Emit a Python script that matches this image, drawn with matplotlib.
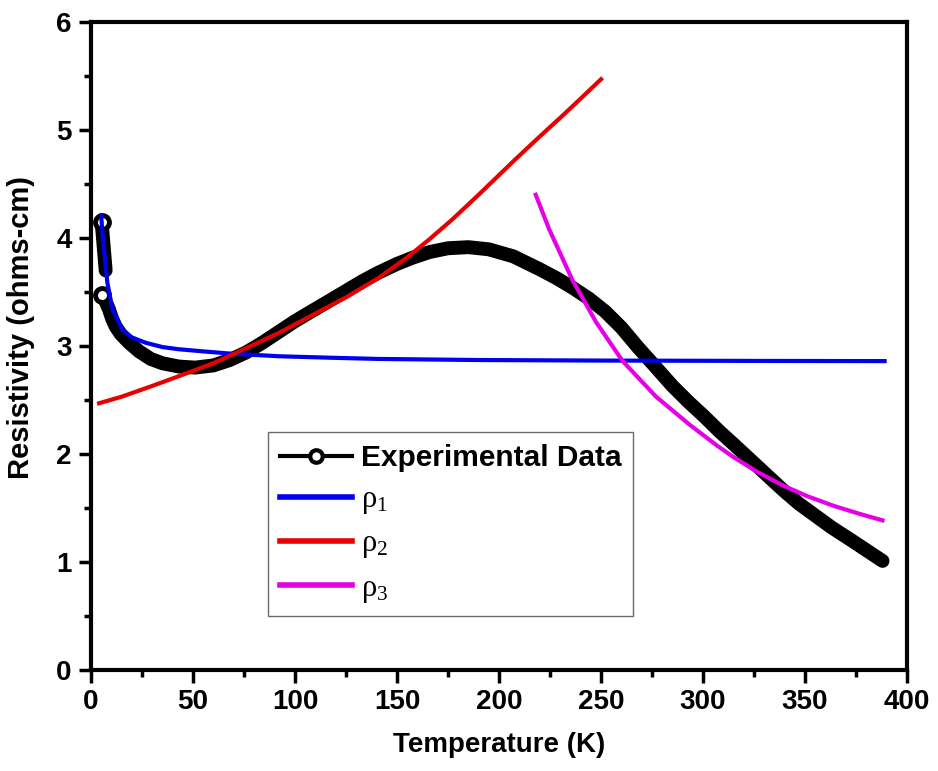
import matplotlib
matplotlib.use("Agg")
import matplotlib.pyplot as plt
from matplotlib.lines import Line2D
from matplotlib.ticker import MultipleLocator

plt.rcParams['font.family'] = ['Liberation Sans', 'DejaVu Sans']
plt.rcParams['mathtext.fontset'] = 'custom'
plt.rcParams['mathtext.rm'] = 'Liberation Serif'
plt.rcParams['mathtext.it'] = 'Liberation Serif'

# measured resistivity: the cluster at the lowest temperatures, then the main sweep
exp_T_low = [5.2, 5.6, 6.0, 6.4, 6.8, 7.2]
exp_rho_low = [4.15, 4.06, 3.97, 3.88, 3.79, 3.70]

exp_T = [5.5, 7.2, 8.8, 10.4, 12.1, 14.6, 18.7, 23.6, 29.3, 35, 43, 51, 60, 68, 76,
         84, 92, 100, 108, 117, 125, 133, 141, 150, 158, 166, 175, 185, 195, 207,
         220, 228, 236, 244, 252, 260, 268, 277, 285, 293, 301, 308, 315, 323, 331,
         339, 347, 355, 363, 372, 380, 388]
exp_rho = [3.47, 3.41, 3.34, 3.25, 3.18, 3.11, 3.03, 2.95, 2.88, 2.84, 2.81, 2.80,
           2.82, 2.87, 2.94, 3.03, 3.13, 3.23, 3.32, 3.42, 3.51, 3.60, 3.68, 3.76,
           3.82, 3.87, 3.905, 3.915, 3.895, 3.83, 3.71, 3.63, 3.54, 3.44, 3.32, 3.17,
           2.99, 2.80, 2.63, 2.48, 2.34, 2.21, 2.09, 1.95, 1.81, 1.67, 1.54, 1.43,
           1.32, 1.21, 1.11, 1.01]

# fitted contributions
rho1_T = [5.0, 5.6, 6.4, 8.0, 10.5, 15.4, 20, 26.8, 35, 43, 55, 68, 92, 120, 141,
          190, 250, 320, 389]
rho1 = [4.21, 4.05, 3.89, 3.59, 3.34, 3.15, 3.08, 3.03, 2.99, 2.97, 2.95, 2.93,
        2.905, 2.89, 2.88, 2.87, 2.865, 2.862, 2.86]

rho2_T = [4, 15, 30, 43, 60, 75, 92, 110, 125, 141, 155, 166, 177, 190, 207, 220,
          231, 240, 250]
rho2 = [2.47, 2.53, 2.63, 2.72, 2.84, 2.97, 3.12, 3.30, 3.45, 3.63, 3.82, 3.99,
        4.17, 4.40, 4.71, 4.94, 5.13, 5.29, 5.47]

rho3_T = [218, 224.6, 236, 247.6, 260.6, 277, 293.5, 306.7, 315, 327, 339, 351, 364,
          376, 388]
rho3 = [4.40, 4.08, 3.61, 3.22, 2.86, 2.53, 2.27, 2.08, 1.97, 1.83, 1.71, 1.61,
        1.52, 1.45, 1.385]

fig = plt.figure(figsize=(9.38, 7.71), dpi=100)
ax = fig.add_axes([0.097, 0.131, 0.870, 0.8405])

# dense open circles merge into a thick band
band = dict(color='black', lw=10, solid_capstyle='round', solid_joinstyle='round')
ax.plot(exp_T_low, exp_rho_low, **band, zorder=2)
ax.plot(exp_T, exp_rho, **band, zorder=2)
ax.plot(exp_T_low[:1] + exp_T[:1], exp_rho_low[:1] + exp_rho[:1], 'o', ms=10,
        mfc='white', mec='black', mew=3.5, zorder=3)

ax.plot(rho1_T, rho1, color='#0000ee', lw=3, zorder=4)
ax.plot(rho2_T, rho2, color='#e80000', lw=3, zorder=4)
ax.plot(rho3_T, rho3, color='#e600e6', lw=3, zorder=4)

ax.set_xlim(0, 400)
ax.set_ylim(0, 6)
ax.xaxis.set_major_locator(MultipleLocator(50))
ax.xaxis.set_minor_locator(MultipleLocator(25))
ax.yaxis.set_major_locator(MultipleLocator(1))
ax.yaxis.set_minor_locator(MultipleLocator(0.5))
ax.tick_params(which='major', direction='out', length=9, width=2.5, labelsize=20, pad=5)
ax.tick_params(which='minor', direction='out', length=5, width=2.5)
for lab in ax.get_xticklabels() + ax.get_yticklabels():
    lab.set_fontweight('bold')
for sp in ax.spines.values():
    sp.set_linewidth(3)

ax.set_xlabel('Temperature (K)', fontsize=20, fontweight='bold', labelpad=12)
ax.set_ylabel('Resistivity (ohms-cm)', fontsize=21, fontweight='bold')
ax.yaxis.set_label_coords(-0.069, 0.528)

handles = [
    Line2D([], [], color='black', lw=3, marker='o', ms=9, mfc='white', mec='black', mew=3),
    Line2D([], [], color='#0000ee', lw=4),
    Line2D([], [], color='#e80000', lw=4),
    Line2D([], [], color='#e600e6', lw=4),
]
labels = ['Experimental Data', r'ρ$_1$', r'ρ$_2$', r'ρ$_3$']
leg = ax.legend(handles, labels, loc='upper left', bbox_to_anchor=(0.217, 0.367),
                borderaxespad=0, fontsize=21.5, frameon=True, fancybox=False,
                edgecolor='#444444', handlelength=2.4, handletextpad=0.3,
                labelspacing=0.44, borderpad=0.4)
leg.get_frame().set_linewidth(1.0)
texts = leg.get_texts()
texts[0].set_fontweight('bold')
for t in texts[1:]:
    t.set_fontfamily(['Liberation Serif', 'DejaVu Serif'])
    t.set_fontsize(22)

fig.savefig('out.png', dpi=100)
